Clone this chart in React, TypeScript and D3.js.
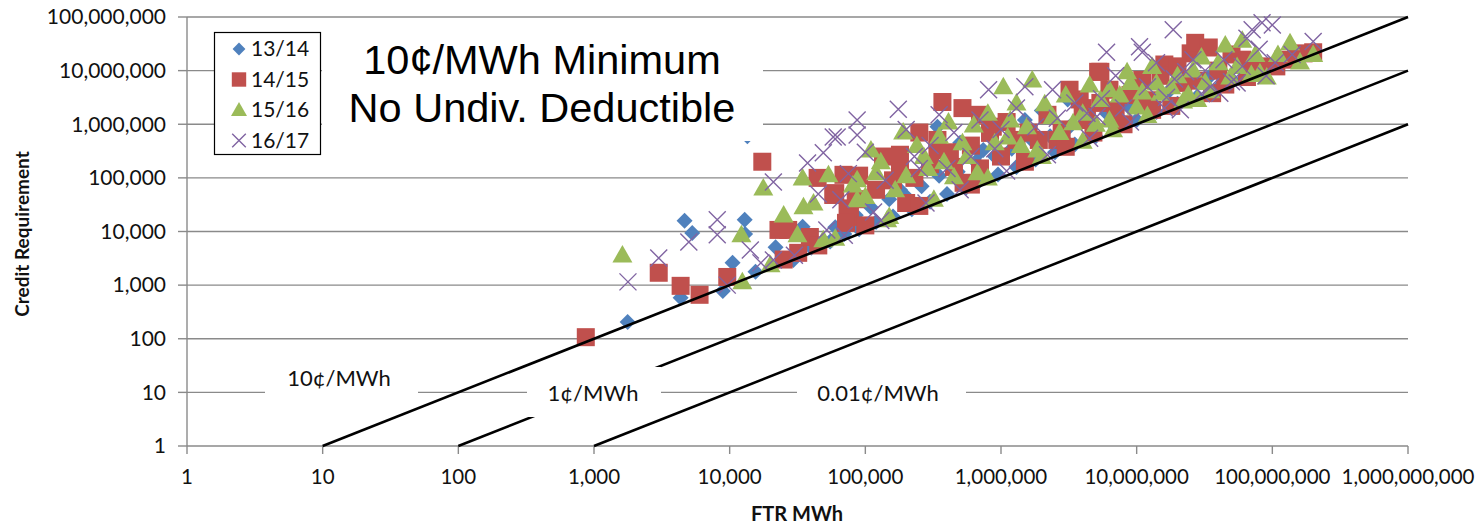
import * as d3 from "d3";
import { useMemo } from "react";

// FTR MWh vs credit requirement ($), one list per planning year
const s1314: [number, number][] = [
  [1770, 205], [4350, 580], [4650, 15800], [5300, 9400], [8900, 780], [10500, 2600],
  [12900, 16500], [13500, 600000], [15500, 1780], [21800, 5100], [29500, 2950], [34500, 12200],
  [40000, 5000], [55000, 6500], [70000, 9000], [90000, 11000], [120000, 15000], [160000, 19000],
  [220000, 26000], [300000, 36000], [400000, 50000], [550000, 65000], [700000, 90000],
  [950000, 115000], [1300000, 160000], [1800000, 220000], [2500000, 300000], [3500000, 420000],
  [5000000, 600000], [7000000, 850000], [10000000, 1200000], [14000000, 1700000],
  [20000000, 2400000], [28000000, 3300000], [40000000, 4800000], [340000, 900000],
  [740000, 330000], [3100000, 2900000], [3100000, 450000], [8900000, 2000000], [700000, 300000],
  [1500000, 1200000], [180000, 60000], [13000, 9000],
  [60000, 12000], [85000, 20000], [110000, 28000], [150000, 40000], [200000, 45000],
  [260000, 70000], [350000, 110000], [480000, 130000], [650000, 200000], [900000, 250000],
  [1200000, 350000], [1700000, 500000], [2300000, 600000], [3200000, 900000], [4500000, 1300000],
  [6000000, 1600000], [8000000, 2500000], [12000000, 3000000], [17000000, 4000000],
  [25000000, 6000000], [35000000, 8000000], [50000000, 7000000], [500000, 450000],
  [2000000, 1800000],
];

const s1415: [number, number][] = [
  [870, 107], [3000, 1700], [4350, 970], [6000, 660], [9600, 1420], [17400, 200000],
  [22900, 10700], [27000, 10700], [32000, 4000], [39000, 7900], [44500, 100000], [60000, 52000],
  [69000, 114000], [77000, 18700], [58000, 48000], [74000, 27000], [72000, 14500], [135000, 250000],
  [180000, 270000], [180000, 130000], [200000, 34000], [340000, 510000], [340000, 330000],
  [370000, 2600000], [520000, 2000000], [450000, 160000], [530000, 81000], [870000, 900000],
  [830000, 690000], [1300000, 510000], [1900000, 510000], [2600000, 510000], [4300000, 1200000],
  [3200000, 4400000], [5200000, 9500000], [6300000, 4400000], [3800000, 2900000],
  [5400000, 2500000], [5400000, 9500000], [11000000, 6700000], [13000000, 1860000],
  [16000000, 13000000], [22000000, 5900000], [25000000, 21000000], [27000000, 33000000],
  [34000000, 27000000], [36000000, 3800000], [60000000, 16000000], [65000000, 7600000],
  [107000000, 12000000], [150000000, 18000000], [170000000, 21000000], [200000000, 22000000],
  [25000, 3000], [45000, 5500], [100000, 13000], [250000, 30000], [600000, 75000],
  [1500000, 200000], [3000000, 380000], [8000000, 1000000], [18000000, 2200000],
  [45000000, 5500000], [85000, 40000], [90000, 110000],
  [120000, 60000], [160000, 90000], [230000, 100000], [300000, 180000], [420000, 300000],
  [600000, 400000], [700000, 150000], [1000000, 250000], [1100000, 1100000], [1600000, 700000],
  [2200000, 1500000], [2800000, 800000], [4000000, 2000000], [4800000, 700000],
  [7000000, 1800000], [9000000, 3500000], [12000000, 2800000], [15000000, 8000000],
  [20000000, 12000000], [28000000, 6500000], [40000000, 10000000], [50000000, 20000000],
  [80000000, 12000000], [120000000, 16000000], [250000, 700000], [700000, 1500000],
];

const s1516: [number, number][] = [
  [1620, 3650], [12200, 8700], [12400, 1150], [17700, 65000], [25000, 20400], [31600, 8700],
  [35000, 29000], [41500, 34000], [34500, 100000], [53500, 114000], [81000, 74000], [49000, 7000],
  [87000, 92000], [87000, 39000], [110000, 330000], [120000, 124000], [166000, 60000],
  [145000, 16500], [190000, 720000], [270000, 250000], [290000, 150000], [410000, 1100000],
  [450000, 105000], [630000, 970000], [670000, 124000], [1040000, 5000000], [1700000, 6700000],
  [1170000, 1200000], [1550000, 900000], [2400000, 1400000], [3400000, 1070000],
  [5400000, 2900000], [6300000, 1200000], [1120000, 580000], [1850000, 330000],
  [8500000, 9500000], [4500000, 5400000], [6300000, 4400000], [14000000, 5900000],
  [18000000, 5000000], [26000000, 10300000], [10000000, 2100000], [15000000, 3800000],
  [28000000, 2900000], [30000000, 18000000], [60000000, 37000000], [135000000, 33000000],
  [160000000, 14500000], [81000000, 9100000], [49000000, 7600000], [91000000, 7600000],
  [6700000, 790000], [20000, 2400], [60000, 7500], [150000, 19000], [320000, 40000],
  [800000, 100000], [2000000, 250000], [4000000, 480000], [12000000, 1450000],
  [22000000, 2700000], [35000000, 4200000], [70000000, 8500000],
  [100000, 45000], [130000, 200000], [200000, 110000], [240000, 400000], [350000, 600000],
  [380000, 200000], [520000, 450000], [560000, 250000], [800000, 1600000], [900000, 450000],
  [1300000, 2500000], [1400000, 400000], [2100000, 2400000], [2700000, 700000],
  [3000000, 3500000], [4000000, 1600000], [5000000, 1000000], [7500000, 3500000],
  [9000000, 6000000], [11000000, 4000000], [13000000, 12000000], [20000000, 8000000],
  [24000000, 3600000], [32000000, 6000000], [40000000, 14000000], [55000000, 12000000],
  [75000000, 20000000], [110000000, 20000000], [200000000, 20000000], [45000000, 30000000],
];

const s1617: [number, number][] = [
  [1780, 1150], [3000, 3200], [5000, 6400], [8100, 16500], [8100, 8700], [9600, 1000],
  [14200, 4500], [21000, 84000], [37500, 190000], [49000, 295000], [62000, 580000], [52000, 10700],
  [21000, 2950], [17000, 2600], [66000, 39000], [87000, 1200000], [58000, 580000], [87000, 630000],
  [175000, 1900000], [115000, 23000], [810000, 4400000], [1500000, 5000000], [2400000, 4400000],
  [6000000, 22000000], [5100000, 1400000], [10500000, 28000000], [11000000, 22000000],
  [18600000, 58000000], [71000000, 58000000], [84000000, 78000000], [100000000, 71000000],
  [200000000, 35000000], [44000000, 16000000], [55000000, 5900000], [23000000, 9500000],
  [35000000, 5000000], [4300000, 1600000], [16600000, 3200000], [21000000, 1860000],
  [41000000, 3800000], [105000000, 14000000], [30000, 3600], [70000, 8500], [130000, 16000],
  [280000, 34000], [500000, 60000], [1100000, 135000], [2200000, 270000], [4500000, 550000],
  [9000000, 1100000], [16000000, 2000000], [30000000, 3700000], [50000000, 6200000],
  [300000, 400000], [600000, 250000], [1000000, 800000], [250000, 150000],
  [45000, 50000], [75000, 120000], [100000, 300000], [140000, 90000], [200000, 800000],
  [230000, 250000], [350000, 1500000], [400000, 150000], [450000, 700000], [700000, 1200000],
  [900000, 350000], [1300000, 2000000], [1800000, 900000], [2600000, 1300000],
  [3500000, 2500000], [5500000, 3000000], [7000000, 8000000], [8000000, 2000000],
  [12000000, 5000000], [14000000, 14000000], [19000000, 7000000], [26000000, 16000000],
  [32000000, 10000000], [60000000, 12000000], [80000000, 25000000], [140000000, 20000000],
  [65000000, 40000000], [90000000, 8000000],
];

const seriesNames = ["13/14", "14/15", "15/16", "16/17"];
const seriesColors = ["#4F81BD", "#C0504D", "#9BBB59", "#8064A2"];
const seriesShapes = ["diamond", "square", "triangle", "cross"];
const seriesData = [s1314, s1415, s1516, s1617];

// $/MWh rates of the reference lines and their labels
const rateValues = [0.1, 0.01, 0.001];
const rateLabels = ["10¢/MWh", "1¢/MWh", "0.01¢/MWh"];

const xTicks = [1, 10, 100, 1e3, 1e4, 1e5, 1e6, 1e7, 1e8, 1e9];
const yTicks = [1, 10, 100, 1e3, 1e4, 1e5, 1e6, 1e7, 1e8];

const titleLines = ["10¢/MWh Minimum", "No Undiv. Deductible"];

const W = 1481;
const H = 525;
const FONT = "Lato, 'Open Sans', sans-serif";

function Marker({ shape, cx, cy, color, s = 1 }: { shape: string; cx: number; cy: number; color: string; s?: number }) {
  if (shape === "diamond") {
    const r = 8 * s;
    return <path d={`M${cx},${cy - r}L${cx + r},${cy}L${cx},${cy + r}L${cx - r},${cy}Z`} fill={color} />;
  }
  if (shape === "square") {
    const r = 9 * s;
    return <rect x={cx - r} y={cy - r} width={2 * r} height={2 * r} fill={color} />;
  }
  if (shape === "triangle") {
    const r = 10 * s;
    return <path d={`M${cx},${cy - r}L${cx + r},${cy + r * 0.75}L${cx - r},${cy + r * 0.75}Z`} fill={color} />;
  }
  const r = 8.5 * s;
  return (
    <path
      d={`M${cx - r},${cy - r}L${cx + r},${cy + r}M${cx - r},${cy + r}L${cx + r},${cy - r}`}
      stroke={color}
      strokeWidth={1.4}
      fill="none"
    />
  );
}

export default function App() {
  const x = useMemo(() => d3.scaleLog().domain([1, 1e9]).range([187, 1408]), []);
  const y = useMemo(() => d3.scaleLog().domain([1, 1e8]).range([446, 17]), []);
  const fmt = d3.format(",");

  const gridColor = "#8a8a8a";
  const ink = "#111";

  // white boxes that sit behind the line labels (they cut the gridline and a line)
  const labelBoxes = [
    { x0: 265, x1: 418, y0: 360, y1: 400, tx: 339, ty: 378 },
    { x0: 527, x1: 661, y0: 367, y1: 417, tx: 593, ty: 393 },
    { x0: 797, x1: 966, y0: 371, y1: 412, tx: 878, ty: 393 },
  ];

  return (
    <div style={{ position: "absolute", left: 0, top: 0, background: "#fff" }}>
      <svg width={W} height={H} style={{ display: "block" }}>
        <rect width={W} height={H} fill="#fff" />

        {/* horizontal gridlines */}
        {yTicks.map((t) => (
          <line key={t} x1={x(1)} x2={x(1e9)} y1={y(t)} y2={y(t)} stroke={gridColor} strokeWidth={1.4} />
        ))}

        {/* axes */}
        <line x1={x(1)} x2={x(1)} y1={y(1e8)} y2={y(1)} stroke={gridColor} strokeWidth={1.4} />
        {yTicks.map((t) => (
          <line key={t} x1={x(1) - 9} x2={x(1)} y1={y(t)} y2={y(t)} stroke={gridColor} strokeWidth={1.4} />
        ))}
        {xTicks.map((t) => (
          <line key={t} x1={x(t)} x2={x(t)} y1={y(1)} y2={y(1) + 8} stroke={gridColor} strokeWidth={1.4} />
        ))}

        {yTicks.map((t) => (
          <text key={t} x={166} y={y(t)} dy="0.35em" textAnchor="end" fontFamily={FONT} fontSize={21} fill={ink}>
            {fmt(t)}
          </text>
        ))}
        {xTicks.map((t) => (
          <text key={t} x={x(t)} y={477} dy="0.35em" textAnchor="middle" fontFamily={FONT} fontSize={20.5} fill={ink}>
            {fmt(t)}
          </text>
        ))}

        <text x={797} y={514} dy="0.35em" textAnchor="middle" fontFamily={FONT} fontWeight="bold" fontSize={20} fill={ink}>
          FTR MWh
        </text>
        <text
          transform={`translate(22,234) rotate(-90)`}
          dy="0.35em"
          textAnchor="middle"
          fontFamily={FONT}
          fontWeight="bold"
          fontSize={19}
          fill={ink}
        >
          Credit Requirement
        </text>

        {/* scatter series */}
        {seriesData.map((data, si) => (
          <g key={seriesNames[si]}>
            {data.map(([mwh, credit], i) => (
              <Marker key={i} shape={seriesShapes[si]} cx={x(mwh)} cy={y(credit)} color={seriesColors[si]} />
            ))}
          </g>
        ))}

        {/* constant $/MWh lines */}
        {rateValues.map((r) => (
          <line
            key={r}
            x1={x(1 / r)}
            y1={y(1)}
            x2={x(1e9)}
            y2={y(1e9 * r)}
            stroke="#000"
            strokeWidth={2.6}
          />
        ))}

        {/* line labels */}
        {labelBoxes.map((b, i) => (
          <g key={rateLabels[i]}>
            <rect x={b.x0} y={b.y0} width={b.x1 - b.x0} height={b.y1 - b.y0} fill="#fff" />
            <text x={b.tx} y={b.ty} dy="0.35em" textAnchor="middle" fontFamily={FONT} fontSize={22} fill={ink}>
              {rateLabels[i]}
            </text>
          </g>
        ))}

        {/* title box */}
        <rect x={322} y={26} width={441} height={115} fill="#fff" />
        {titleLines.map((t, i) => (
          <text
            key={t}
            x={542}
            y={74 + i * 48}
            textAnchor="middle"
            fontFamily="'Liberation Sans', Arial, sans-serif"
            fontSize={41.5}
            fill="#000"
          >
            {t}
          </text>
        ))}

        {/* legend */}
        <rect x={214.5} y={32.5} width={106} height={122} fill="#fff" stroke="#000" strokeWidth={1.2} />
        {seriesNames.map((n, i) => {
          const ly = 49 + i * 30.5;
          return (
            <g key={n}>
              <Marker shape={seriesShapes[i]} cx={239} cy={ly} color={seriesColors[i]} s={0.8} />
              <text x={251} y={ly} dy="0.35em" fontFamily={FONT} fontSize={21} fill={ink}>
                {n}
              </text>
            </g>
          );
        })}
      </svg>
    </div>
  );
}
